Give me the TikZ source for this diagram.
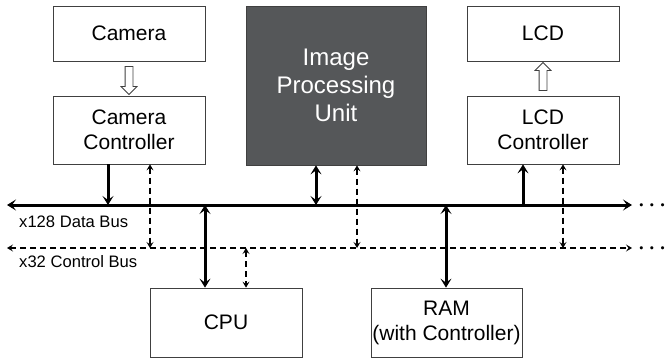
\documentclass[tikz,border=0pt]{standalone}
\usepackage{fontspec}
\setmainfont{Liberation Sans}
\usetikzlibrary{arrows.meta,shapes.arrows,calc}
\definecolor{ipugray}{HTML}{555759}
\tikzset{
  unit/.style={draw=black!75, line width=0.8pt, inner sep=0pt, minimum width=152pt, align=center, font=\fontsize{21}{25}\selectfont},
  hollow/.style={single arrow, draw=black!75, line width=0.8pt, fill=white, inner sep=3.5pt, single arrow head extend=4pt, minimum height=28pt, minimum width=0pt},
  databus/.style={line width=3pt},
  ctrlbus/.style={line width=2pt, dash pattern=on 6pt off 4pt},
  dtip/.tip={Stealth[length=9pt,width=11pt,inset=4pt]},
  ctip/.tip={Stealth[length=6pt,width=7pt,inset=2.5pt]},
  buslabel/.style={anchor=base west, inner sep=0pt, font=\fontsize{16.6}{18}\selectfont},
  busdots/.style={anchor=base, inner sep=0pt, font=\fontsize{22}{22}\selectfont\boldmath}
}
\begin{document}
\begin{tikzpicture}[x=1pt,y=-1pt]
    \useasboundingbox (0,0) rectangle (665,362);

    % units
    \node[unit, minimum height=55pt] (cam) at (129,33.5) {Camera};
    \node[unit, minimum height=68pt] (camc) at (129,130) {Camera\\Controller};
    \node[unit, minimum width=180pt, minimum height=159pt, fill=ipugray, text=white, font=\fontsize{24}{28}\selectfont] (ipu) at (336,85.5) {Image\\Processing\\Unit};
    \node[unit, minimum height=55pt] (lcd) at (543,33.5) {LCD};
    \node[unit, minimum height=68pt] (lcdc) at (543,130) {LCD\\Controller};
    \node[unit, minimum height=69pt] (cpu) at (226,322.5) {CPU};
    \node[unit, minimum width=151pt, minimum height=69pt] (ram) at (446.5,322.5) {RAM\\(with Controller)};

    % hollow arrows
    \node[hollow, rotate=-90] (camarrow) at ($(cam.south)!0.5!(camc.north)$) {};
    \node[hollow, rotate=90] (lcdarrow) at ($(lcdc.north)!0.5!(lcd.south)$) {};

    % buses
    \coordinate (dl) at (7,205);
    \coordinate (dr) at (632,205);
    \coordinate (cl) at (7,248);
    \coordinate (cr) at (632,248);
    \draw[databus, {dtip}-{dtip}] (dl) -- (dr);
    \draw[ctrlbus, {ctip}-{ctip}] (cl) -- (cr);
    \node[busdots] (ddots) at (652,210.5) {$\cdots$};
    \node[busdots] (cdots) at (652,253.5) {$\cdots$};
    \node[buslabel] (dlabel) at (19,227) {x128 Data Bus};
    \node[buslabel] (clabel) at (19,267) {x32 Control Bus};

    % data bus links
    \draw[databus, -{dtip}] ([xshift=-21pt]camc.south) -- ([xshift=-21pt]camc.south |- dl);
    \draw[databus, {dtip}-{dtip}] ([xshift=-20pt]ipu.south) -- ([xshift=-20pt]ipu.south |- dl);
    \draw[databus, -{dtip}] ([xshift=-20pt]lcdc.south |- dl) -- ([xshift=-20pt]lcdc.south);
    \draw[databus, {dtip}-{dtip}] ([xshift=-21pt]cpu.north |- dl) -- ([xshift=-21pt]cpu.north);
    \draw[databus, {dtip}-{dtip}] ([xshift=-0.5pt]ram.north |- dl) -- ([xshift=-0.5pt]ram.north);

    % control bus links
    \draw[ctrlbus, {ctip}-{ctip}] ([xshift=21pt]camc.south) -- ([xshift=21pt]camc.south |- cl);
    \draw[ctrlbus, {ctip}-{ctip}] ([xshift=21pt]ipu.south) -- ([xshift=21pt]ipu.south |- cl);
    \draw[ctrlbus, {ctip}-{ctip}] ([xshift=20pt]lcdc.south) -- ([xshift=20pt]lcdc.south |- cl);
    \draw[ctrlbus, {ctip}-{ctip}] ([xshift=20pt]cpu.north |- cl) -- ([xshift=20pt]cpu.north);

\end{tikzpicture}
\end{document}
